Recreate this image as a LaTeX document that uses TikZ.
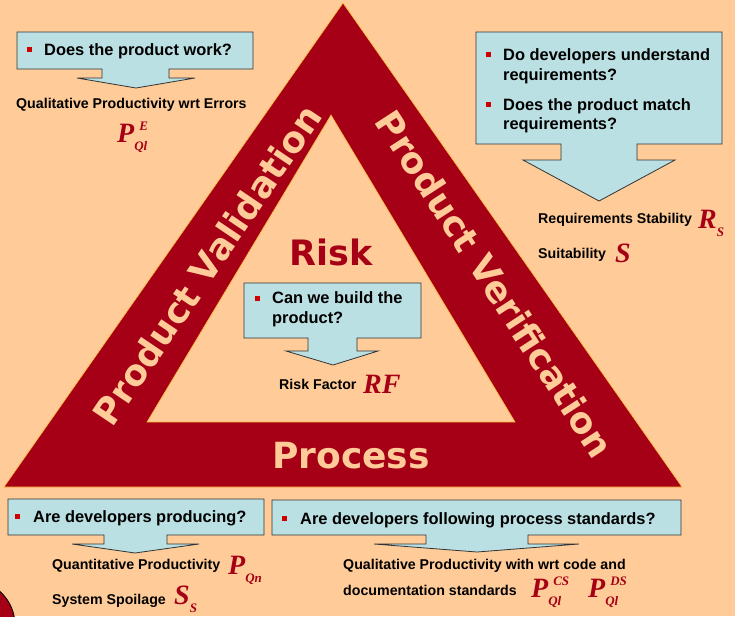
\documentclass[tikz,border=0pt]{standalone}
\usepackage{fontspec}
\setmainfont{Liberation Sans}
\newfontfamily\titlefont{DejaVu Sans}
\newfontfamily\symfont{Liberation Serif}
\definecolor{peach}{RGB}{255,204,153}
\definecolor{darkred}{RGB}{166,0,22}
\definecolor{callblue}{RGB}{187,224,227}
\definecolor{bulletred}{RGB}{204,0,0}
\definecolor{edgegold}{RGB}{255,190,60}
% metric symbol: base letter, subscript, superscript
\newcommand{\msym}[3]{{\fontsize{28}{28}\selectfont #1}\makebox[0pt][l]{\hspace{5pt}\raisebox{12pt}{\fontsize{13}{13}\selectfont #3}}\raisebox{-8pt}{\fontsize{13}{13}\selectfont #2}}
\begin{document}
\begin{tikzpicture}[x=1pt,y=-1pt,
    title/.style={font=\titlefont\bfseries\fontsize{36}{36}\selectfont,text=peach,inner sep=0pt},
    callout/.style={fill=callblue,draw=black!80,line width=0.8pt,line join=miter},
    bullet/.style={fill=bulletred,inner sep=0pt,minimum size=5pt},
    qtext/.style={anchor=base west,inner sep=0pt,font=\bfseries\fontsize{16.4}{19}\selectfont},
    label/.style={anchor=base west,inner sep=0pt,font=\bfseries\fontsize{14.2}{17}\selectfont},
    metric/.style={anchor=base west,inner sep=0pt,text=darkred,font=\symfont\bfseries\itshape}]
  \useasboundingbox (0,0) rectangle (735,616);
  \clip (0,0) rectangle (735,616);
  \fill[peach] (0,0) rectangle (735,616);
  \draw[fill=darkred,draw=black,line width=0.8pt] (-30,625) circle (45);
  % triangle
  \fill[darkred,even odd rule] (343,3) -- (682,487) -- (4,487) -- cycle
    (331,115) -- (515,422) -- (147,422) -- cycle;
  \draw[edgegold,line width=0.6pt] (343,3) -- (682,487) -- (4,487) -- cycle
    (331,115) -- (515,422) -- (147,422) -- cycle;
  \node[title,rotate=56] (val) at (207,265) {Product Validation};
  \node[title,rotate=-57] (ver) at (495,284) {Product Verification};
  \node[title,anchor=base] (proc) at (351,468) {Process};
  \node[title,anchor=base,text=darkred,font=\titlefont\bfseries\fontsize{35}{35}\selectfont] (risk) at (331,265) {Risk};
  % callouts
  \draw[callout] (17,32) -- (253,32) -- (253,69) -- (169,69) -- (169,78) -- (195,78)
    -- (136,88) -- (77,78) -- (102,78) -- (102,69) -- (17,69) -- cycle;
  \draw[callout] (476,32) -- (722,32) -- (722,144) -- (637,144) -- (637,160) -- (675,160)
    -- (599,201) -- (523,160) -- (561,160) -- (561,144) -- (476,144) -- cycle;
  \draw[callout] (244,283) -- (421,283) -- (421,338) -- (357,338) -- (357,351) -- (378,351)
    -- (333,365) -- (286,351) -- (308,351) -- (308,338) -- (244,338) -- cycle;
  \draw[callout] (8,499) -- (264,499) -- (264,535) -- (167,535) -- (167,544) -- (199,544)
    -- (135,553) -- (72,544) -- (104,544) -- (104,535) -- (8,535) -- cycle;
  \draw[callout] (272,500) -- (681,500) -- (681,535) -- (528,535) -- (528,544) -- (579,544)
    -- (477,552) -- (374,544) -- (426,544) -- (426,535) -- (272,535) -- cycle;
  % questions
  \node[bullet] (b1) at (29.5,49.5) {};
  \node[qtext] (q1) at (44,55) {Does the product work?};
  \node[bullet] (b2) at (488,54) {};
  \node[qtext] (q2) at (503,60) {Do developers understand};
  \node[qtext] (q2b) at (503,80) {requirements?};
  \node[bullet] (b3) at (488,104) {};
  \node[qtext] (q3) at (503,110) {Does the product match};
  \node[qtext] (q3b) at (503,129) {requirements?};
  \node[bullet] (b4) at (257,298) {};
  \node[qtext] (q4) at (272,303) {Can we build the};
  \node[qtext] (q4b) at (272,323) {product?};
  \node[bullet] (b5) at (17,516) {};
  \node[qtext] (q5) at (33,522) {Are developers producing?};
  \node[bullet] (b6) at (284,518) {};
  \node[qtext] (q6) at (300,524) {Are developers following process standards?};
  % measures
  \node[label] (l1) at (16,108) {Qualitative Productivity wrt Errors};
  \node[metric] (m1) at (117,142) {\msym{P}{Ql}{E}};
  \node[label] (l2) at (538,223) {Requirements Stability};
  \node[metric] (m2) at (698,228) {\msym{R}{S}{}};
  \node[label] (l3) at (538,258) {Suitability};
  \node[metric] (m3) at (615,262) {\msym{S}{}{}};
  \node[label] (l4) at (279,389) {Risk Factor};
  \node[metric] (m4) at (363,393) {\msym{RF}{}{}};
  \node[label] (l5) at (52,569) {Quantitative Productivity};
  \node[metric] (m5) at (228,574) {\msym{P}{Qn}{}};
  \node[label] (l6) at (52,604) {System Spoilage};
  \node[metric] (m6) at (174,604) {\msym{S}{S}{}};
  \node[label] (l7) at (343,569) {Qualitative Productivity with wrt code and};
  \node[label] (l8) at (343,595) {documentation standards};
  \node[metric] (m7) at (531,597) {\msym{P}{Ql}{CS}};
  \node[metric] (m8) at (588,597) {\msym{P}{Ql}{DS}};
\end{tikzpicture}
\end{document}
